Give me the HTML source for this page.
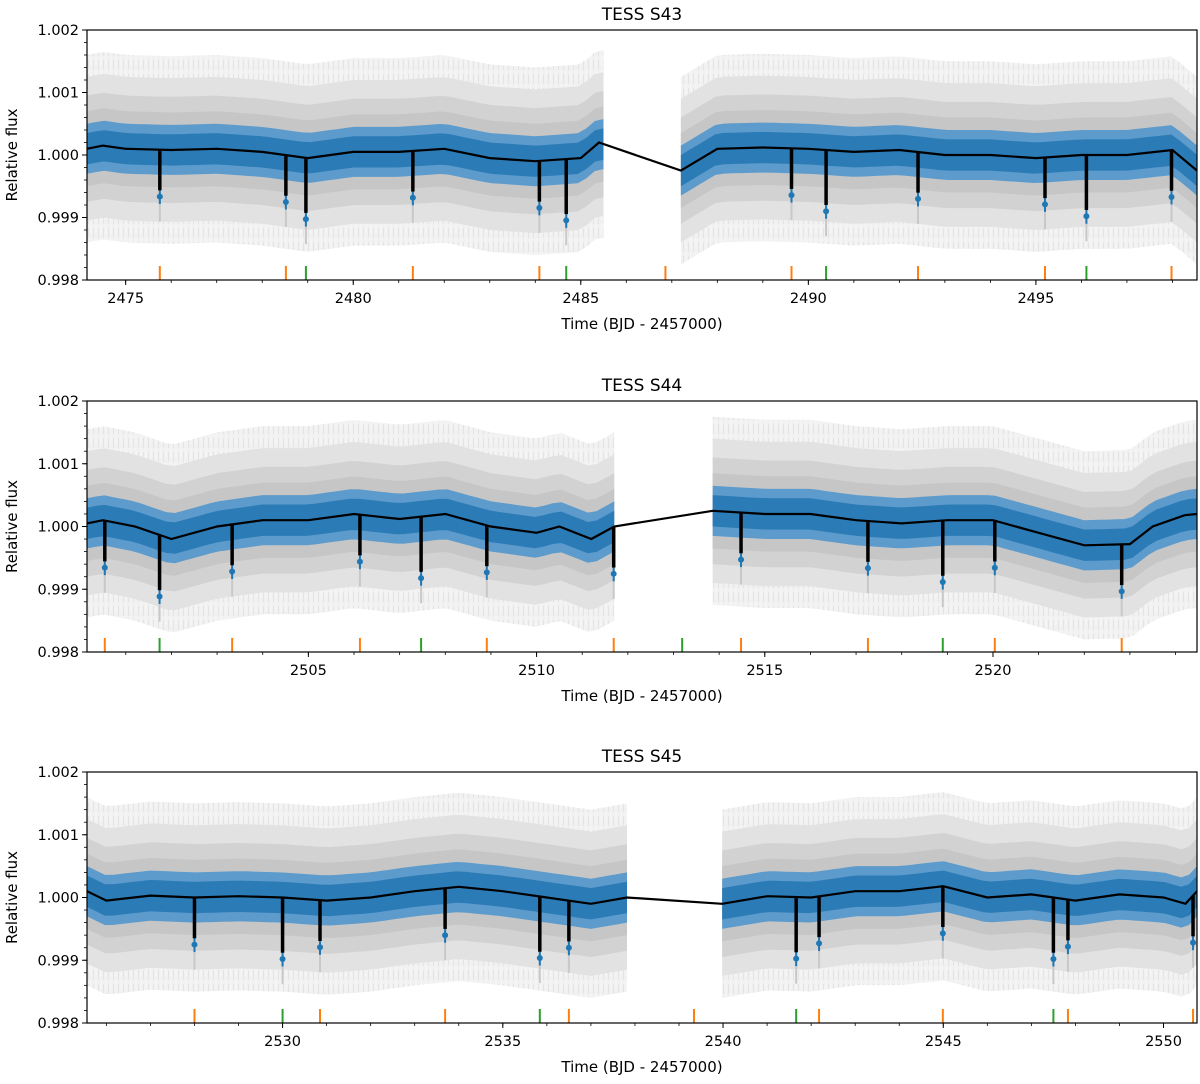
<!DOCTYPE html>
<html><head><meta charset="utf-8"><style>
html,body{margin:0;padding:0;background:#fff}
svg text{font-family:"DejaVu Sans","Liberation Sans",sans-serif;fill:#000}
</style></head><body>
<svg id="fig" xmlns="http://www.w3.org/2000/svg" width="1200" height="1079" viewBox="0 0 1200 1079">
<defs>
<pattern id="errbars" width="5" height="14" patternUnits="userSpaceOnUse">
<line x1="1" y1="0" x2="1" y2="10" stroke="#ffffff" stroke-opacity="0.35" stroke-width="1"/>
<line x1="3.5" y1="4" x2="3.5" y2="14" stroke="#888" stroke-opacity="0.12" stroke-width="1"/>
</pattern>
</defs>
</svg>
<script>
// ---- Panel data ----
const titles = ["TESS S43","TESS S44","TESS S45"];
const xRanges = [[2474.15,2498.54],[2500.15,2524.47],[2525.56,2550.76]];
const segments = [[[2474.15,2485.5],[2487.2,2498.54]],[[2500.15,2511.7],[2513.86,2524.47]],[[2525.56,2537.82],[2539.98,2550.76]]];
const trendT1 = [2474.15,2474.5,2475,2476,2477,2478,2479,2480,2481,2482,2483,2484,2485,2485.4,2487.2,2488,2489,2490,2491,2492,2493,2494,2495,2496,2497,2498,2498.54];
const trendV1 = [1.0001,1.00015,1.0001,1.00008,1.0001,1.00005,0.99995,1.00005,1.00005,1.0001,0.99995,0.9999,0.99995,1.0002,0.99975,1.0001,1.00012,1.0001,1.00005,1.00008,1.0,1.0,0.99995,1.0,1.0,1.00008,0.99975];
const trendT2 = [2500.15,2500.5,2501.2,2502,2503,2504,2505,2506,2507,2508,2509,2510,2510.5,2511.2,2511.7,2513.86,2515,2516,2517,2518,2519,2520,2521,2522,2523,2523.5,2524.2,2524.47];
const trendV2 = [1.00005,1.0001,1.0,0.9998,1.0,1.0001,1.0001,1.0002,1.00012,1.0002,1.0,0.9999,1.0,0.9998,1.0,1.00025,1.0002,1.0002,1.0001,1.00005,1.0001,1.0001,0.9999,0.9997,0.99972,1.0,1.00018,1.0002];
const trendT3 = [2525.56,2526,2527,2528,2529,2530,2531,2532,2533,2534,2535,2536,2537,2537.82,2539.98,2541,2542,2543,2544,2545,2546,2547,2548,2549,2550,2550.5,2550.76];
const trendV3 = [1.0001,0.99995,1.00003,1.0,1.00002,1.0,0.99995,1.0,1.0001,1.00017,1.0001,1.0,0.9999,1.0,0.9999,1.00002,1.0,1.0001,1.0001,1.00018,1.0,1.00005,0.99995,1.00005,1.0,0.9999,1.0001];
const orange1 = [2475.75,2478.52,2481.31,2484.09,2486.86,2489.63,2492.41,2495.20,2497.98];
const green1 = [2478.96,2484.68,2490.39,2496.11];
const orange2 = [2500.54,2503.33,2506.13,2508.91,2511.69,2514.48,2517.26,2520.04,2522.82];
const green2 = [2501.74,2507.47,2513.19,2518.90];
const orange3 = [2528.00,2530.85,2533.69,2536.50,2539.34,2542.18,2544.99,2547.83,2550.67];
const green3 = [2530.0,2535.84,2541.66,2547.50];
const depthOrange = 0.00065, depthGreen = 0.00088;
const yTicks = [0.998,0.999,1.000,1.001,1.002];
const yTickLabels = ["0.998","0.999","1.000","1.001","1.002"];
const xTicks1 = [2475,2480,2485,2490,2495];
const xTicks2 = [2505,2510,2515,2520];
const xTicks3 = [2530,2535,2540,2545,2550];

const panels = [
 {top:30,bottom:280,title:titles[0],xr:xRanges[0],seg:segments[0],tt:trendT1,tv:trendV1,or:orange1,gr:green1,xt:xTicks1},
 {top:401,bottom:652,title:titles[1],xr:xRanges[1],seg:segments[1],tt:trendT2,tv:trendV2,or:orange2,gr:green2,xt:xTicks2},
 {top:772,bottom:1023,title:titles[2],xr:xRanges[2],seg:segments[2],tt:trendT3,tv:trendV3,or:orange3,gr:green3,xt:xTicks3}
];
const L=87,R=1197;
const NS="http://www.w3.org/2000/svg";
const svg=document.getElementById('fig');
function mk(tag,attrs,parent){const e=document.createElementNS(NS,tag);for(const k in attrs)e.setAttribute(k,attrs[k]);(parent||svg).appendChild(e);return e;}
function interp(ts,vs,t){if(t<=ts[0])return vs[0];for(let i=1;i<ts.length;i++){if(t<=ts[i]){const f=(t-ts[i-1])/(ts[i]-ts[i-1]);return vs[i-1]+f*(vs[i]-vs[i-1]);}}return vs[vs.length-1];}

panels.forEach((p,pi)=>{
  const g=mk('g',{});
  
  
  const xs=t=>L+(t-p.xr[0])/(p.xr[1]-p.xr[0])*(R-L);
  const ys=v=>p.bottom-(v-0.998)/0.004*(p.bottom-p.top);
  const clipId='clip'+pi;
  const cp=mk('clipPath',{id:clipId},g);mk('rect',{x:L,y:p.top,width:R-L,height:p.bottom-p.top},cp);
  const plot=mk('g',{'clip-path':'url(#'+clipId+')'},g);
  const bands=[[0.0015,'#f1f1f1'],[0.00115,'#e2e2e2'],[0.00085,'#d2d2d2'],[0.0006,'#c6c6c6'],[0.0004,'#5c9bcb'],[0.00025,'#2b7bb7']];
  p.seg.forEach((s,si)=>{
    bands.forEach((b,bi)=>{
      const n=60;let up=[],dn=[];
      for(let i=0;i<=n;i++){const t=s[0]+(s[1]-s[0])*i/n;const v=interp(p.tt,p.tv,t);up.push(xs(t).toFixed(1)+','+ys(v+b[0]).toFixed(1));dn.unshift(xs(t).toFixed(1)+','+ys(v-b[0]).toFixed(1));}
      const pts=up.concat(dn).join(' ');
      const e=mk('polygon',{points:pts,fill:b[1]},plot);
      
      
      if(bi===0){const tx=mk('polygon',{points:pts,fill:'url(#errbars)'},plot);}
    });
  });
  let pts=[];
  for(let i=0;i<p.tt.length;i++)pts.push(xs(p.tt[i]).toFixed(1)+','+ys(p.tv[i]).toFixed(1));
  const tl=mk('polyline',{points:pts.join(' '),fill:'none',stroke:'#000','stroke-width':2.2},plot);
  
  
  const inSeg=t=>p.seg.some(s=>t>=s[0]&&t<=s[1]);
  [[p.or,depthOrange,'#ff7f0e','orange'],[p.gr,depthGreen,'#2ca02c','green']].forEach(([arr,d,col,nm])=>{
    arr.forEach(t=>{
      const x=xs(t);
      if(inSeg(t)){
        const v=interp(p.tt,p.tv,t);
        mk('line',{x1:x,x2:x,y1:ys(v-d-0.0005),y2:ys(v-d),stroke:'#c8c8c8','stroke-width':2},plot);
        mk('circle',{cx:x,cy:ys(v-d-0.0001),r:3,fill:'#1f77b4'},plot);
        mk('line',{x1:x,x2:x,y1:ys(v-d-0.00022),y2:ys(v-d+0.0001),stroke:'#1f77b4','stroke-width':2},plot);
        const dl=mk('line',{x1:x,x2:x,y1:ys(v),y2:ys(v-d),stroke:'#000','stroke-width':3.5},plot);
        
        
      }
      const m=mk('line',{x1:x,x2:x,y1:p.bottom-14,y2:p.bottom,stroke:col,'stroke-width':2},plot);
      
      
    });
  });
  const fr=mk('rect',{x:L,y:p.top,width:R-L,height:p.bottom-p.top,fill:'none',stroke:'#000','stroke-width':1.2},g);
  
  
  yTicks.forEach((v,i)=>{
    const y=ys(v);
    mk('line',{x1:L-5,x2:L,y1:y,y2:y,stroke:'#000','stroke-width':1},g);
    const tx=mk('text',{x:L-8,y:y+5,'text-anchor':'end','font-size':14.5},g);tx.textContent=yTickLabels[i];
    
    
  });
  for(let v=0.998;v<=1.0020001;v+=0.0002){const y=ys(v);mk('line',{x1:L-3,x2:L,y1:y,y2:y,stroke:'#000','stroke-width':0.8},g);}
  for(let t=Math.ceil(p.xr[0]);t<=p.xr[1];t++){const x=xs(t);mk('line',{x1:x,x2:x,y1:p.bottom,y2:p.bottom+3,stroke:'#000','stroke-width':0.8},g);}
  p.xt.forEach(t=>{
    const x=xs(t);
    mk('line',{x1:x,x2:x,y1:p.bottom,y2:p.bottom+5,stroke:'#000','stroke-width':1},g);
    const tx=mk('text',{x:x,y:p.bottom+23,'text-anchor':'middle','font-size':14.5},g);tx.textContent=String(t);
    
    
  });
  const ti=mk('text',{x:(L+R)/2,y:p.top-10,'text-anchor':'middle','font-size':17},g);ti.textContent=p.title;
  
  
  const xl=mk('text',{x:(L+R)/2,y:p.bottom+49,'text-anchor':'middle','font-size':15},g);xl.textContent='Time (BJD - 2457000)';
  
  
  const cy=(p.top+p.bottom)/2;
  const yl=mk('text',{x:17,y:cy,'text-anchor':'middle','font-size':15,transform:'rotate(-90 17 '+cy+')'},g);yl.textContent='Relative flux';
  
  
});
</script>
</body></html>
